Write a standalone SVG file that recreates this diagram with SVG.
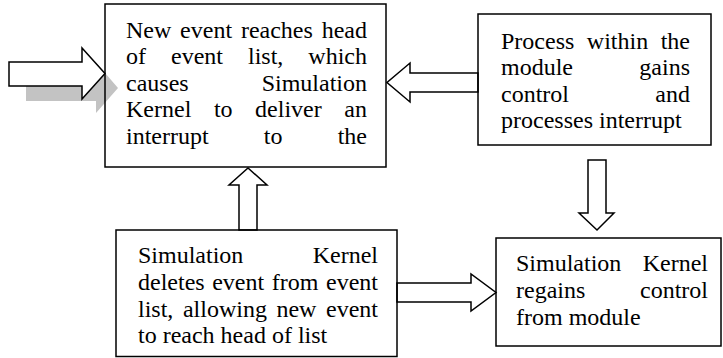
<svg xmlns="http://www.w3.org/2000/svg" width="723" height="358" viewBox="0 0 723 358">
<style>
.box{fill:none;stroke:#000;stroke-width:1.5}
.arr{fill:#fff;stroke:#000;stroke-width:1.5;stroke-linejoin:miter}
.sh{fill:#c3c3c3;stroke:none}
text{font-family:"Liberation Serif","Times New Roman",serif;font-size:24px;fill:#000}
.e{text-anchor:end}
</style>
<rect width="723" height="358" fill="#fff"/>
<g id="connectors">
<polygon class="sh" points="26,76.5 96,76.5 96,62.5 118,88 96,113 96,101 26,101"/>
<polygon class="arr" points="9,62 82,62 82,48 105,73.5 82,99 82,86 9,86"/>
<polygon class="arr" points="478,73 410,73 410,63 387,82.5 410,102 410,92 478,92"/>
<polygon class="arr" points="239,230 239,185 229,185 248,168 267,185 257,185 257,230"/>
<polygon class="arr" points="588,160 606,160 606,213 614,213 597,230 579,213 588,213"/>
<polygon class="arr" points="397,283 471,283 471,274 496,292.5 471,311 471,302 397,302"/>
</g>
<g id="node1">
<rect class="box" x="105" y="4" width="281" height="163"/>
<text x="126" y="37.5">New</text><text x="180.1" y="37.5">event</text><text x="240.9" y="37.5">reaches</text><text class="e" x="367" y="37.5">head</text>
<text x="126" y="64">of</text><text x="171" y="64">event</text><text x="248" y="64">list,</text><text class="e" x="367" y="64">which</text>
<text x="126" y="90.7">causes</text><text class="e" x="367" y="90.7">Simulation</text>
<text x="126" y="117.3">Kernel</text><text x="213.9" y="117.3">to</text><text x="255.1" y="117.3">deliver</text><text class="e" x="367" y="117.3">an</text>
<text x="126" y="144">interrupt</text><text x="263.8" y="144">to</text><text class="e" x="367" y="144">the</text>
</g>
<g id="node2">
<rect class="box" x="478" y="14" width="233" height="131"/>
<text x="501" y="48.5">Process</text><text x="586.8" y="48.5">within</text><text class="e" x="690" y="48.5">the</text>
<text x="501" y="75">module</text><text class="e" x="690" y="75">gains</text>
<text x="501" y="101.5">control</text><text class="e" x="690" y="101.5">and</text>
<text x="501" y="128">processes interrupt</text>
</g>
<g id="node3">
<rect class="box" x="116" y="230" width="281" height="126.5"/>
<text x="138" y="263">Simulation</text><text class="e" x="378" y="263">Kernel</text>
<text x="138" y="290">deletes</text><text x="212.2" y="290">event</text><text x="271.8" y="290">from</text><text class="e" x="378" y="290">event</text>
<text x="138" y="316.5">list,</text><text x="182.9" y="316.5">allowing</text><text x="276.45" y="316.5">new</text><text class="e" x="378" y="316.5">event</text>
<text x="138" y="343">to reach head of list</text>
</g>
<g id="node4">
<rect class="box" x="496" y="238" width="225" height="108"/>
<text x="516" y="271">Simulation</text><text class="e" x="708" y="271">Kernel</text>
<text x="516" y="298">regains</text><text class="e" x="708" y="298">control</text>
<text x="516" y="325">from module</text>
</g>
</svg>
